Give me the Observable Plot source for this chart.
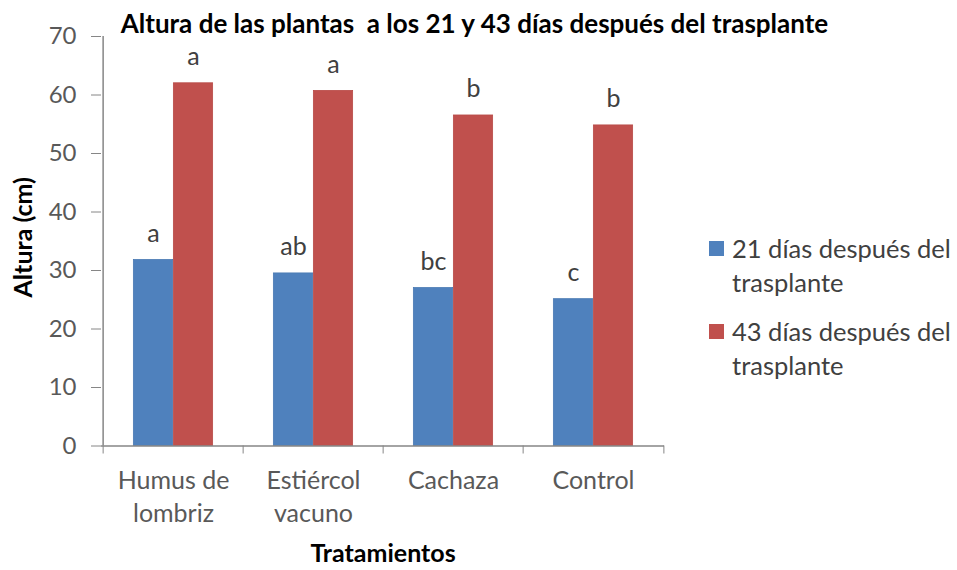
<!DOCTYPE html>
<html><head><meta charset="utf-8">
<script src="https://cdn.jsdelivr.net/npm/d3@7"></script>
<script src="https://cdn.jsdelivr.net/npm/@observablehq/plot@0.6"></script>
<style>
body{margin:0;background:#fff}
#wrap{position:relative;width:957px;height:570px;font-family:Lato,"Noto Sans",sans-serif}
#title{position:absolute;left:-4px;width:957px;top:10px;text-align:center;font-weight:bold;font-size:26px;line-height:26px;color:#000}
.leg{position:absolute;left:709px;font-size:25.5px;color:#404040;line-height:34px}
.leg .sw{position:absolute;left:0;top:10px;width:15px;height:15px}
.leg .tx{margin-left:23px;width:240px;white-space:nowrap}
</style>
</head><body><div id="wrap"></div>
<script>
const categories = ["Humus de lombriz", "Estiércol vacuno", "Cachaza", "Control"];
const tickLabels = ["Humus de\nlombriz", "Estiércol\nvacuno", "Cachaza", "Control"];
const seriesNames = ["21 días después del trasplante", "43 días después del trasplante"];
const seriesLines = [["21 días después del", "trasplante"], ["43 días después del", "trasplante"]];
const values21 = [31.8, 29.5, 27.0, 25.1];
const values43 = [62.0, 60.7, 56.5, 54.8];
const letters21 = ["a", "ab", "bc", "c"];
const letters43 = ["a", "a", "b", "b"];
const yTicks = [0, 10, 20, 30, 40, 50, 60, 70];
const colors = ["#4F81BD", "#C0504D"];
const titleText = "Altura de las plantas  a los 21 y 43 días después del trasplante";
const yLabel = "Altura (cm)";
const xLabel = "Tratamientos";

const d21 = categories.map((c, i) => ({cat: c, v: values21[i], l: letters21[i]}));
const d43 = categories.map((c, i) => ({cat: c, v: values43[i], l: letters43[i]}));
const labelOf = new Map(categories.map((c, i) => [c, tickLabels[i]]));

const W = 957, H = 570;
const mL = 101, mR = 293, mT = 36, mB = 124.5;
const bandW = (W - mL - mR) / categories.length;
const barW = 40;
const inset = (bandW - barW) / 2;

const plot = Plot.plot({
  width: W, height: H,
  marginLeft: mL, marginRight: mR, marginTop: mT, marginBottom: mB,
  style: {fontFamily: "Lato, 'Noto Sans', sans-serif", background: "#fff", overflow: "visible"},
  x: {type: "band", domain: categories, padding: 0},
  y: {domain: [0, 70]},
  marks: [
    Plot.barY(d21, {x: "cat", y: "v", fill: colors[0], stroke: "#4A7AB3", strokeWidth: 0.8, insetLeft: inset, insetRight: inset, dx: -barW / 2}),
    Plot.barY(d43, {x: "cat", y: "v", fill: colors[1], stroke: "#B84B48", strokeWidth: 0.8, insetLeft: inset, insetRight: inset, dx: barW / 2}),
    Plot.text(d21, {x: "cat", y: "v", text: "l", dx: -barW / 2, dy: -26, fontSize: 25, fill: "#404040"}),
    Plot.text(d43, {x: "cat", y: "v", text: "l", dx: barW / 2, dy: -26, fontSize: 25, fill: "#404040"}),
    Plot.axisY({ticks: yTicks, tickSize: 10, tickPadding: 15, fontSize: 24, color: "#595959", stroke: "#868686", label: null}),
    Plot.axisX({tickSize: 0, tickPadding: 20, fontSize: 25, color: "#595959", lineHeight: 1.3, tickFormat: d => labelOf.get(d), label: null}),
    Plot.ruleY([0], {stroke: "#868686", strokeWidth: 1.5}),
    Plot.ruleX(categories, {x: d => d, dx: -bandW / 2, insetTop: H - mT - mB, insetBottom: -8, stroke: "#868686"}),
    Plot.ruleX([categories[categories.length - 1]], {x: d => d, dx: bandW / 2, insetTop: H - mT - mB, insetBottom: -8, stroke: "#868686"}),
    Plot.ruleX([categories[0]], {x: d => d, dx: -bandW / 2, stroke: "#868686", strokeWidth: 1.5}),
    Plot.text([yLabel], {frameAnchor: "left", textAnchor: "middle", dx: -78, dy: -4, rotate: -90, fontWeight: "bold", fontSize: 25, fill: "#000"}),
    Plot.text([xLabel], {frameAnchor: "bottom", dy: 116, fontWeight: "bold", fontSize: 25, fill: "#000"})
  ]
});
const wrap = document.getElementById("wrap");
wrap.appendChild(plot);
const t = document.createElement("div");
t.id = "title"; t.textContent = titleText; t.style.whiteSpace = "pre";
wrap.appendChild(t);
const tops = [231, 314];
seriesLines.forEach((lines, i) => {
  const e = document.createElement("div");
  e.className = "leg"; e.style.top = tops[i] + "px";
  e.innerHTML = `<div class="sw" style="background:${colors[i]}"></div><div class="tx">${lines.join("<br>")}</div>`;
  e.title = seriesNames[i];
  wrap.appendChild(e);
});
</script>
</body></html>
